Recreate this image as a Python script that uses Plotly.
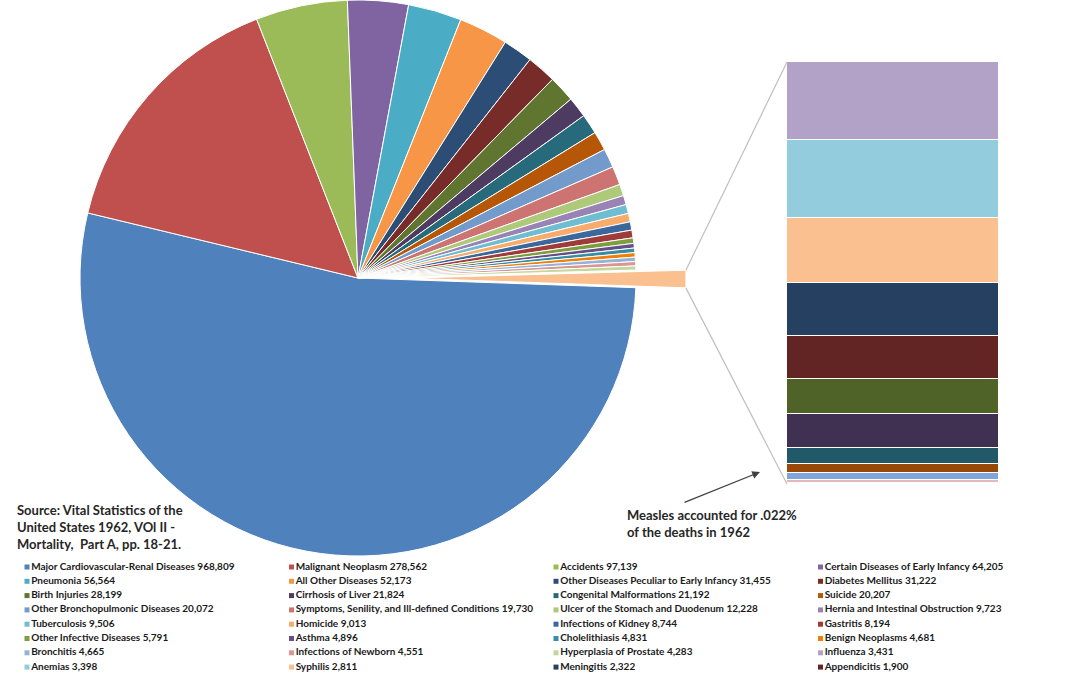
import math
import plotly.graph_objects as go

W, H = 1080, 675

# ---------------- data ----------------
causes = [
    "Major Cardiovascular-Renal Diseases", "Malignant Neoplasm", "Accidents", "Certain Diseases of Early Infancy",
    "Pneumonia", "All Other Diseases", "Other Diseases Peculiar to Early Infancy", "Diabetes Mellitus",
    "Birth Injuries", "Cirrhosis of Liver", "Congenital Malformations", "Suicide",
    "Other Bronchopulmonic Diseases", "Symptoms, Senility, and Ill-defined Conditions",
    "Ulcer of the Stomach and Duodenum", "Hernia and Intestinal Obstruction",
    "Tuberculosis", "Homicide", "Infections of Kidney", "Gastritis",
    "Other Infective Diseases", "Asthma", "Cholelithiasis", "Benign Neoplasms",
    "Bronchitis", "Infections of Newborn", "Hyperplasia of Prostate", "Influenza",
    "Anemias", "Syphilis", "Meningitis", "Appendicitis",
]
deaths = [
    968809, 278562, 97139, 64205,
    56564, 52173, 31455, 31222,
    28199, 21824, 21192, 20207,
    20072, 19730, 12228, 9723,
    9506, 9013, 8744, 8194,
    5791, 4896, 4831, 4681,
    4665, 4551, 4283, 3431,
    3398, 2811, 2322, 1900,
]
# causes whose legend rows are cut off in the picture (values estimated from bar segments)
hidden_causes = ["Cause 33", "Cause 34", "Cause 35", "Measles", "Cause 37", "Cause 38", "Cause 39"]
hidden_deaths = [1520, 1475, 695, 400, 300, 130, 65]

colors = [
    "#4F81BD", "#C0504D", "#9BBB59", "#8064A2", "#4BACC6", "#F79646",
    "#2C4D75", "#772C2A", "#5F7530", "#4D3B62", "#276A7C", "#B65708",
    "#729ACA", "#CD7371", "#AFC97A", "#9983B5", "#6FBDD1", "#F9AB6B",
    "#3A679C", "#9F3B38", "#7E9D40", "#664F83", "#358EA6", "#F07F09",
    "#95B3D7", "#D99694", "#C3D69B", "#B3A2C7", "#93CDDD", "#FAC090",
    "#254061", "#632523", "#4F6228", "#403152", "#215968", "#984807",
    "#7FA6DA", "#E6B9B8", "#D7E4BD",
]
other_color = "#FAC090"
n_pie = 27  # slices drawn in the pie; the rest go to the bar

source_text = "Source: Vital Statistics of the<br>United States 1962, VOl II -<br>Mortality,  Part A, pp. 18-21."
measles_text = "Measles accounted for .022%<br>of the deaths in 1962"

# ---------------- derived ----------------
all_names = causes + hidden_causes
all_vals = deaths + hidden_deaths
bar_names = all_names[n_pie:]
bar_vals = all_vals[n_pie:]
bar_colors = colors[n_pie:len(all_vals)]
other_total = sum(bar_vals)
pie_vals = all_vals[:n_pie] + [other_total]
pie_labels = all_names[:n_pie] + ["Other"]
T = sum(pie_vals)

# geometry (pixels)
CX, CY, R = 358, 278, 278
PULL = 50
ROT = 92
theta1 = ROT + 360.0 * (T - other_total) / T
theta2 = ROT + 360.0
thb = math.radians((theta1 + theta2) / 2)
dxp = PULL * math.sin(thb)
dyp = max(0.0, -PULL * math.cos(thb))
cxB, cyB = CX + dxp, CY + dyp

domA = dict(x=[(CX - R) / W, (CX + R) / W], y=[1 - (CY + R) / H, 1 - (CY - R) / H])
domB = dict(x=[(cxB - R) / W, (cxB + R) / W], y=[1 - (cyB + R) / H, 1 - (cyB - R) / H])

BAR_L, BAR_R, BAR_T, BAR_B = 787, 999, 62, 484

fig = go.Figure()

# main pie (other slice left empty)
fig.add_trace(go.Pie(
    values=pie_vals, labels=pie_labels, sort=False, direction="clockwise", rotation=ROT,
    domain=domA, textinfo="none", showlegend=False,
    marker=dict(colors=colors[:n_pie] + ["rgba(0,0,0,0)"],
                line=dict(color="white", width=[1] * n_pie + [0])),
    hoverinfo="label+value+percent",
))
# exploded "other" slice
fig.add_trace(go.Pie(
    values=pie_vals, labels=pie_labels, sort=False, direction="clockwise", rotation=ROT,
    domain=domB, textinfo="none", showlegend=False,
    marker=dict(colors=["rgba(0,0,0,0)"] * n_pie + [other_color],
                line=dict(color="white", width=[0] * n_pie + [1])),
    hoverinfo="skip",
))

# stacked bar of the small causes
for name, val, col in zip(bar_names, bar_vals, bar_colors):
    fig.add_trace(go.Bar(
        x=["other"], y=[val], name=name, marker=dict(color=col, line=dict(color="white", width=1.5)),
        xaxis="x2", yaxis="y2", showlegend=False, width=1,
    ))

# custom legend (4 columns, row-major)
LX0, LDX, LY0, LDY = 27, 264.5, 567, 14.3
lx = [LX0 + (i % 4) * LDX for i in range(len(causes))]
ly = [LY0 + (i // 4) * LDY for i in range(len(causes))]
fig.add_trace(go.Scatter(
    x=lx, y=ly, mode="markers+text", xaxis="x3", yaxis="y3",
    marker=dict(symbol="square", size=5, color=colors[:len(causes)]),
    text=[f"{n} {v:,}" for n, v in zip(causes, deaths)],
    textposition="middle right",
    textfont=dict(family="Lato", size=10, color="#1a1a1a", weight="bold"),
    showlegend=False, hoverinfo="skip", cliponaxis=False,
))

# connector lines
p1 = (cxB + R * math.sin(math.radians(theta1)), cyB - R * math.cos(math.radians(theta1)))
p2 = (cxB + R * math.sin(math.radians(theta2)), cyB - R * math.cos(math.radians(theta2)))
for (px, py), (qx, qy) in [(p1, (BAR_L, BAR_T)), (p2, (BAR_L, BAR_B))]:
    fig.add_shape(type="line", xref="paper", yref="paper",
                  x0=px / W, y0=1 - py / H, x1=qx / W, y1=1 - qy / H,
                  line=dict(color="#BFBFBF", width=1.2))

fig.add_annotation(text=source_text, xref="paper", yref="paper", x=15 / W, y=1 - 500 / H,
                   xanchor="left", yanchor="top", align="left", showarrow=False,
                   font=dict(family="Lato", size=13, color="#262626", weight="bold"))
fig.add_annotation(text=measles_text, xref="paper", yref="paper", x=625 / W, y=1 - 505 / H,
                   xanchor="left", yanchor="top", align="left", showarrow=False,
                   font=dict(family="Lato", size=13, color="#262626", weight="bold"))
fig.add_annotation(text="", xref="paper", yref="paper", x=760 / W, y=1 - 472 / H,
                   ax=-77, ay=31, showarrow=True, arrowhead=2, arrowsize=1.2,
                   arrowwidth=1.3, arrowcolor="#404040")

fig.update_layout(
    width=W, height=H, margin=dict(l=0, r=0, t=0, b=0),
    paper_bgcolor="white", plot_bgcolor="rgba(0,0,0,0)",
    barmode="stack", bargap=0, showlegend=False,
    xaxis2=dict(domain=[BAR_L / W, BAR_R / W], range=[-0.5, 0.5], visible=False, fixedrange=True),
    yaxis2=dict(domain=[1 - BAR_B / H, 1 - BAR_T / H], range=[other_total, 0], visible=False,
                anchor="x2", fixedrange=True),
    xaxis3=dict(domain=[0, 1], range=[0, W], visible=False, fixedrange=True),
    yaxis3=dict(domain=[0, 1], range=[H, 0], visible=False, anchor="x3", fixedrange=True),
)

fig.write_html("out.html", config={"displayModeBar": False},
               post_script="document.body.style.margin='0';document.body.style.overflow='hidden';")
